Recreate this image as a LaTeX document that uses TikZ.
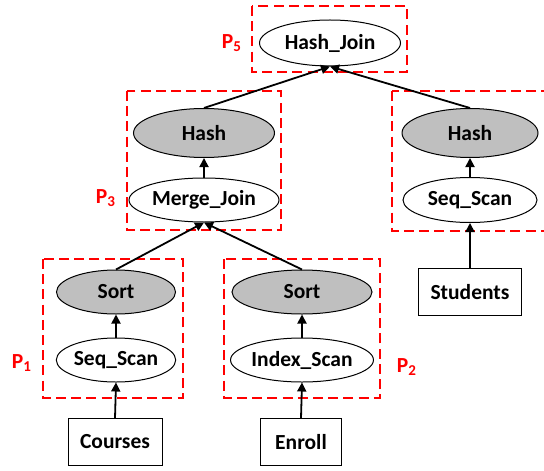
\documentclass[tikz,border=0pt]{standalone}
\usepackage{fontspec}
\setmainfont{Carlito}
\usetikzlibrary{shapes.geometric,arrows.meta}
\begin{document}
\begin{tikzpicture}[x=0.5pt,y=-0.5pt,
  every node/.style={font=\fontsize{10.75}{13}\selectfont\bfseries},
  op/.style={ellipse,draw=black,line width=0.5pt,fill=white,inner sep=0pt},
  opg/.style={op,fill=gray!50},
  rel/.style={rectangle,draw=black,line width=0.5pt,fill=white,inner sep=0pt},
  grp/.style={draw=red,line width=0.9pt,dash pattern=on 5pt off 2.6pt},
  plab/.style={text=red,font=\fontsize{10.75}{13}\selectfont\bfseries},
  edge/.style={line width=0.9pt,-{Triangle[length=4.5pt,width=4.5pt]}}]
\useasboundingbox (0,0) rectangle (544,470);
% groups
\draw[grp] (252,6) rectangle (407,72);
\draw[grp] (127,91) rectangle (281,230);
\draw[grp] (392,91) rectangle (552,231);
\draw[grp] (43,259) rectangle (183,398);
\draw[grp] (224,259) rectangle (380,398);
% labels
\node[plab] (p5) at (232,43) {P\textsubscript{5}};
\node[plab] (p3) at (106,198) {P\textsubscript{3}};
\node[plab] (p1) at (22,363) {P\textsubscript{1}};
\node[plab] (p2) at (407,367) {P\textsubscript{2}};
% nodes
\node[op,minimum width=70.5pt,minimum height=23pt] (hj) at (330,43) {Hash\_Join};
\node[opg,minimum width=70.5pt,minimum height=24.5pt] (hashL) at (204,133) {Hash};
\node[op,minimum width=75pt,minimum height=22pt] (mj) at (204,200) {Merge\_Join};
\node[opg,minimum width=59.5pt,minimum height=22pt] (sort1) at (116,292) {Sort};
\node[op,minimum width=59.5pt,minimum height=22pt] (seq1) at (116,360) {Seq\_Scan};
\node[rel,minimum width=47pt,minimum height=23.5pt] (courses) at (115,442) {Courses};
\node[opg,minimum width=70pt,minimum height=22pt] (sort2) at (302,292) {Sort};
\node[op,minimum width=70pt,minimum height=22pt] (idx) at (302,360) {Index\_Scan};
\node[rel,minimum width=40.5pt,minimum height=23.5pt] (enroll) at (301,442) {Enroll};
\node[opg,minimum width=68pt,minimum height=24.5pt] (hashR) at (470,133) {Hash};
\node[op,minimum width=67pt,minimum height=22.5pt] (seqR) at (470,200) {Seq\_Scan};
\node[rel,minimum width=51.5pt,minimum height=23.5pt] (students) at (470,292) {Students};
% edges
\draw[edge] (hashL.north) -- (hj.south);
\draw[edge] (hashR.north) -- (hj.south);
\draw[edge] (mj.north) -- (hashL.south);
\draw[edge] (sort1.north) -- (mj.south);
\draw[edge] (sort2.north) -- (mj.south);
\draw[edge] (seq1.north) -- (sort1.south);
\draw[edge] (courses.north) -- (seq1.south);
\draw[edge] (idx.north) -- (sort2.south);
\draw[edge] (enroll.north) -- (idx.south);
\draw[edge] (seqR.north) -- (hashR.south);
\draw[edge] (students.north) -- (seqR.south);
\end{tikzpicture}
\end{document}
